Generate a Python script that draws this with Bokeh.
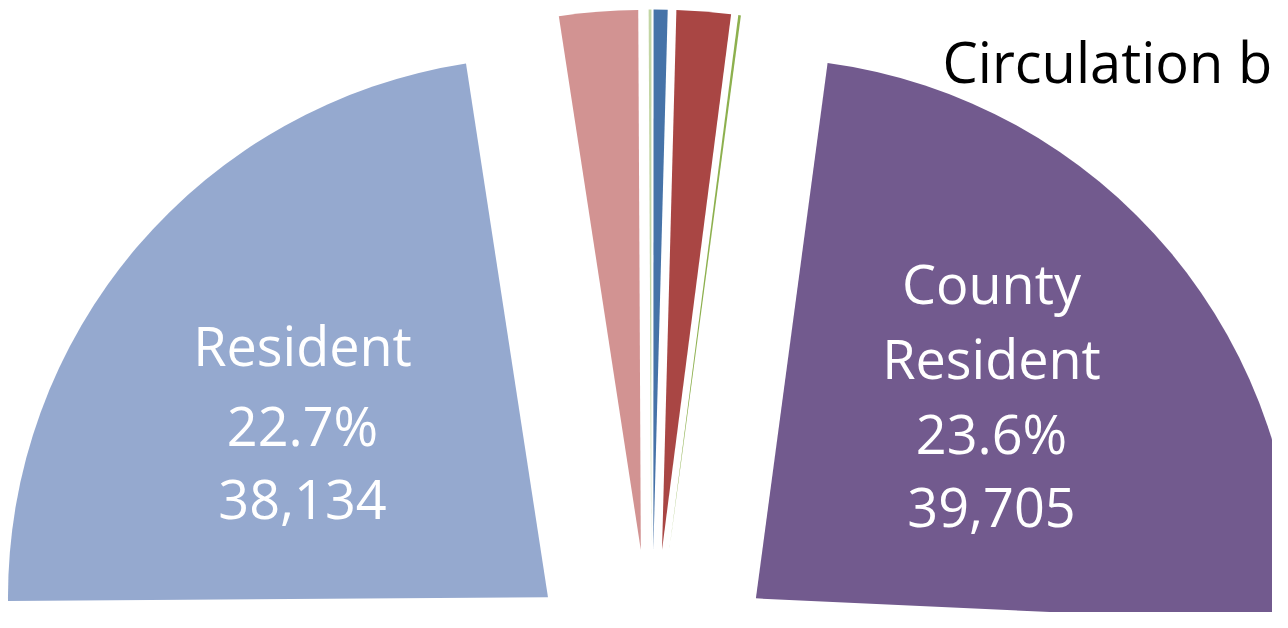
import numpy as np
from bokeh.plotting import figure
from bokeh.models import Range1d, ColumnDataSource
from bokeh.core.properties import value
from bokeh.embed import file_html
from bokeh.resources import INLINE

# ---- data ----
categories = ["Resident", "Non-Resident", "Staff", "Institutional",
              "Temporary", "Reciprocal", "County Resident", "Other (below view)"]
counts = [38134, 3950, 140, 700, 2720, 130, 39705, 82621]
colors = ["#95A9CF", "#D29392", "#C3D6A4", "#4673A8",
          "#A94644", "#8DB04E", "#725A8E", "#4BACC6"]
title_text = "Circulation by"
labelled = ["Resident", "County Resident"]

# ---- layout (pixels; data units == screen pixels) ----
W, H = 1272, 612
PAGE_H = 628
cx, cy = 651.0, PAGE_H - 685.0   # pie centre (below the visible area)
R = 540.0                        # radius
EXPLODE = 136.0                  # explosion distance of each slice
START_DEG = 180.4                # first slice begins here, going clockwise
FONT = "Open Sans"
FS = "54px"
TITLE_FS = "56px"
TEXT_SHIFT = 23                  # baseline correction (pixels upward)

vals = np.array(counts, dtype=float)
total = vals.sum()
spans = vals / total * 2 * np.pi

starts, ends, xs, ys = [], [], [], []
a = np.radians(START_DEG)
for s in spans:
    end = a
    start = a - s
    mid = (start + end) / 2
    starts.append(start)
    ends.append(end)
    xs.append(cx + EXPLODE * np.cos(mid))
    ys.append(cy + EXPLODE * np.sin(mid))
    a = start

src = ColumnDataSource(dict(x=xs, y=ys, start=starts, end=ends, color=colors, cat=categories))

p = figure(width=W, height=H, output_backend="svg", toolbar_location=None,
           x_range=Range1d(0, W), y_range=Range1d(PAGE_H - H, PAGE_H),
           x_axis_location=None, y_axis_location=None, min_border=0)
p.grid.visible = False
p.outline_line_color = None
p.background_fill_color = "white"
p.border_fill_color = "white"

p.wedge(x="x", y="y", radius=R, start_angle="start", end_angle="end",
        direction="anticlock", fill_color="color", line_color=None, source=src)

# data labels: name, percentage, count
label_lines = {
    "Resident": (302, ["Resident"], [367, 447, 522]),
    "County Resident": (991, ["County", "Resident"], [305, 380, 455, 530]),
}
tx, ty, tt = [], [], []
for cat in labelled:
    i = categories.index(cat)
    xc, name_lines, baselines = label_lines[cat]
    pct = f"{vals[i] / total * 100:.1f}%"
    num = f"{counts[i]:,}"
    lines = name_lines + [pct, num]
    for ln, bl in zip(lines, baselines):
        tx.append(xc)
        ty.append(PAGE_H - bl + TEXT_SHIFT)
        tt.append(ln)

p.text(x=tx, y=ty, text=tt, text_color="white", text_font=value(FONT),
       text_font_size=FS, text_align="center", text_baseline="alphabetic")

p.text(x=[942], y=[PAGE_H - 83 + TEXT_SHIFT], text=[title_text], text_color="black",
       text_font=value(FONT), text_font_size=TITLE_FS, text_align="left",
       text_baseline="alphabetic")

open("out.html", "w").write(file_html(p, INLINE))
